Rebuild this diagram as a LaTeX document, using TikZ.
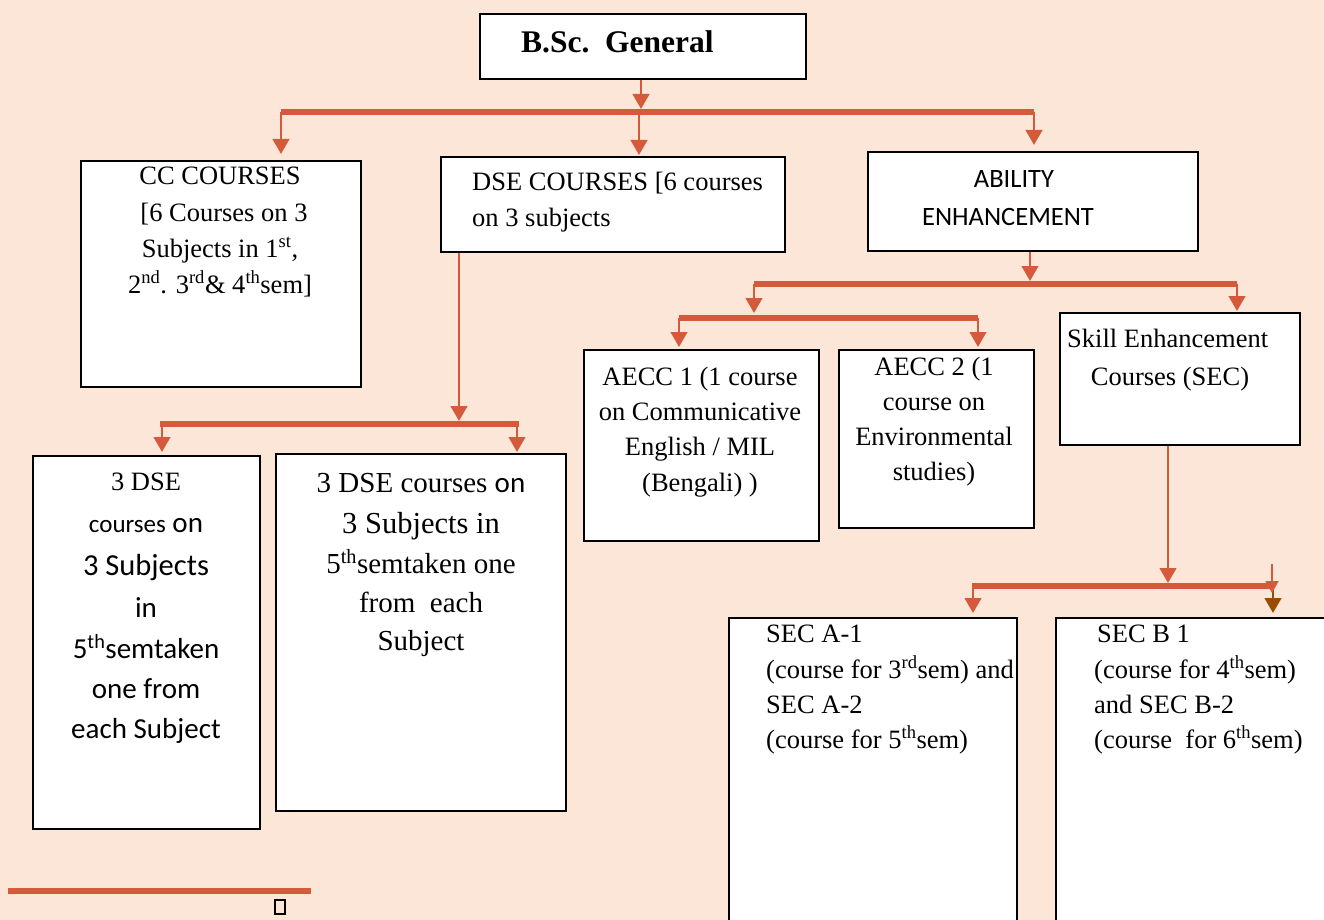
\documentclass[tikz,border=0pt]{standalone}
\usepackage{fontspec}
\setmainfont{Liberation Serif}
\newfontfamily\calfont{Carlito}
\usetikzlibrary{arrows.meta}
\definecolor{bg}{RGB}{251,230,216}
\definecolor{lc}{RGB}{213,90,60}
\definecolor{brn}{RGB}{153,76,0}
\begin{document}
\begin{tikzpicture}[x=1pt,y=-1pt,
 box/.style={draw=black,line width=1.6pt,fill=white,inner sep=0pt,anchor=north west},
 tx/.style={inner sep=0pt,anchor=base,font=\fontsize{26.5}{30}\selectfont},
 txl/.style={tx,anchor=base west},
 cx/.style={inner sep=0pt,anchor=base,font=\calfont\fontsize{29}{32}\selectfont},
 bx/.style={inner sep=0pt,anchor=base,font=\fontsize{29}{32}\selectfont},
 arr/.style={draw=lc,line width=2.8pt,-{Triangle[width=16.5pt,length=15pt]}},
 barline/.style={draw=lc,line width=5.5pt}]
\useasboundingbox (0,0) rectangle (1324,920);
\fill[bg] (0,0) rectangle (1324,920);

% boxes
\node[box,line width=2pt,minimum width=326pt,minimum height=65pt] (bsc) at (479,13) {};
\node[box,minimum width=280pt,minimum height=226pt] (cc) at (80,160) {};
\node[box,minimum width=344pt,minimum height=95pt] (dse) at (440,156) {};
\node[box,minimum width=330pt,minimum height=99pt] (abil) at (867,151) {};
\node[box,minimum width=235pt,minimum height=191pt] (aecc1) at (583,349) {};
\node[box,minimum width=195pt,minimum height=178pt] (aecc2) at (838,349) {};
\node[box,minimum width=240pt,minimum height=132pt] (sec) at (1059,312) {};
\node[box,minimum width=227pt,minimum height=373pt] (dsel) at (32,455) {};
\node[box,minimum width=290pt,minimum height=357pt] (dser) at (275,453) {};
\node[box,minimum width=288pt,minimum height=330pt] (seca) at (728,617) {};
\node[box,minimum width=290pt,minimum height=330pt] (secb) at (1055,617) {};

% texts
\node[inner sep=0pt,anchor=base west,font=\bfseries\fontsize{31.5}{34}\selectfont] (tbsc) at (521,53) {B.Sc.\ \ General};

\node[tx] (cc1) at (220,185) {CC COURSES};
\node[tx] (cc2) at (224,222) {[6 Courses on 3};
\node[tx] (cc3) at (220,257) {Subjects in 1\textsuperscript{st},};
\node[tx] (cc4) at (220,293) {2\textsuperscript{nd}. 3\textsuperscript{rd}\& 4\textsuperscript{th}sem]};

\node[txl] (dse1) at (472,190) {DSE COURSES [6 courses};
\node[txl] (dse2) at (472,226) {on 3 subjects};

\node[cx,font=\calfont\fontsize{26.5}{30}\selectfont] (ab1) at (1014,187) {ABILITY};
\node[cx,font=\calfont\fontsize{26.5}{30}\selectfont] (ab2) at (1008,225) {ENHANCEMENT};

\node[tx] (ae11) at (700,385) {AECC 1 (1 course};
\node[tx] (ae12) at (700,420) {on Communicative};
\node[tx] (ae13) at (700,455) {English / MIL};
\node[tx] (ae14) at (700,491) {(Bengali) )};

\node[tx] (ae21) at (934,375) {AECC 2 (1};
\node[tx] (ae22) at (934,410) {course on};
\node[tx] (ae23) at (934,445) {Environmental};
\node[tx] (ae24) at (934,480) {studies)};

\node[txl] (sec1) at (1067,347) {Skill Enhancement};
\node[tx] (sec2) at (1170,385) {Courses (SEC)};

\node[tx] (dl1) at (146,490) {3 DSE};
\node[cx] (dl2) at (146,532) {{\fontsize{25}{30}\selectfont courses} on};
\node[cx,font=\calfont\fontsize{30.5}{32}\selectfont] (dl3) at (146,575) {3 Subjects};
\node[cx] (dl4) at (146,617) {in};
\node[cx] (dl5) at (146,658) {5\textsuperscript{th}semtaken};
\node[cx] (dl6) at (146,698) {one from};
\node[cx] (dl7) at (146,738) {each Subject};

\node[bx] (dr1) at (421,492) {3 DSE courses {\calfont on}};
\node[bx,font=\fontsize{30.5}{32}\selectfont] (dr2) at (421,533) {3 Subjects in};
\node[bx] (dr3) at (421,573) {5\textsuperscript{th}semtaken one};
\node[bx] (dr4) at (421,612) {from\ \ each};
\node[bx] (dr5) at (421,650) {Subject};

\node[txl] (sa1) at (766,642) {SEC A-1};
\node[txl] (sa2) at (766,678) {(course for 3\textsuperscript{rd}sem) and};
\node[txl] (sa3) at (766,713) {SEC A-2};
\node[txl] (sa4) at (766,748) {(course for 5\textsuperscript{th}sem)};

\node[txl] (sb1) at (1097,642) {SEC B 1};
\node[txl] (sb2) at (1094,678) {(course for 4\textsuperscript{th}sem)};
\node[txl] (sb3) at (1094,713) {and SEC B-2};
\node[txl] (sb4) at (1094,748) {(course\ \ for 6\textsuperscript{th}sem)};

% connector coordinates
\coordinate (b1L) at (281,112);
\coordinate (b1M) at (639,112);
\coordinate (b1R) at (1034,112);
\coordinate (b2L) at (754,284);
\coordinate (b2M) at (1030,284);
\coordinate (b2R) at (1237,284);
\coordinate (b3M) at (754,318);
\coordinate (b3L) at (679,318);
\coordinate (b3R) at (978,318);
\coordinate (b4L) at (160,424);
\coordinate (b4M) at (459,424);
\coordinate (b4R) at (519,424);
\coordinate (b4a) at (162,424);
\coordinate (b4b) at (517,424);
\coordinate (b5L) at (972,586);
\coordinate (b5M) at (1168,586);
\coordinate (b5R) at (1274,586);
\coordinate (b5a) at (973,586);
\coordinate (b5b) at (1273,586);
\coordinate (s0) at (1272,564);
\coordinate (s1) at (1272,593);

% bars
\draw[barline] (b1L) -- (b1R);
\draw[barline] (b2L) -- (b2R);
\draw[barline] (b3L) -- (b3R);
\draw[barline] (b4L) -- (b4R);
\draw[barline] (b5L) -- (b5R);

% arrows
\draw[arr,shorten >=3pt] (bsc.south -| 641,0) -- (641,112);
\draw[arr,shorten >=6pt] (b1L) -- (cc.north -| b1L);
\draw[arr,shorten >=1pt] (b1M) -- (dse.north -| b1M);
\draw[arr,shorten >=6pt] (b1R) -- (abil.north -| b1R);

\draw[arr,shorten >=3pt] (abil.south -| b2M) -- (b2M);
\draw[arr,shorten >=1pt] (b2R) -- (sec.north -| b2R);
\draw[arr,shorten >=5pt] (b2L) -- (b3M);
\draw[arr,shorten >=2pt] (b3L) -- (aecc1.north -| b3L);
\draw[arr,shorten >=2pt] (b3R) -- (aecc2.north -| b3R);

\draw[arr,shorten >=3pt] (dse.south -| b4M) -- (b4M);
\draw[arr,shorten >=3pt] (b4a) -- (dsel.north -| b4a);
\draw[arr,shorten >=1pt] (b4b) -- (dser.north -| b4b);

\draw[arr,shorten >=3pt] (sec.south -| b5M) -- (b5M);
\draw[arr,shorten >=4pt] (b5a) -- (seca.north -| b5a);
\draw[arr,draw=brn,shorten >=4pt] (b5b) -- (secb.north -| b5b);
\draw[arr,line width=1.8pt,-{Triangle[width=13pt,length=12pt]}] (s0) -- (s1);

% bottom stray marks
\draw[barline] (8,891) -- (311,891);
\draw[line width=1.6pt] (275,900) rectangle (285,914);
\end{tikzpicture}
\end{document}
